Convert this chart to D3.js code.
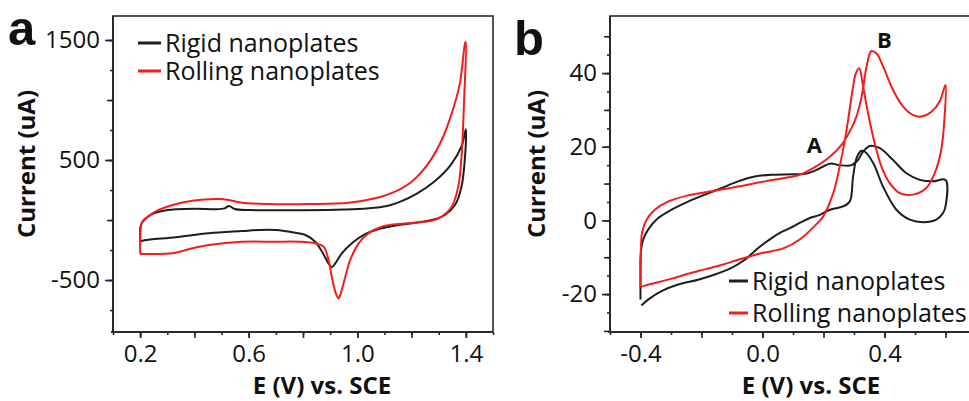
<!DOCTYPE html>
<html>
<head>
<meta charset="utf-8">
<script src="https://cdn.jsdelivr.net/npm/d3@7"></script>
<style>
  body { margin: 0; background: #fff; }
  svg { display: block; }
  text { font-family: "Open Sans", sans-serif; fill: #111; }
</style>
</head>
<body>
<div id="chart"></div>
<script>
// ---- data (E in V vs SCE, current in uA) ----

// panel a : wide scan 0.2 .. 1.4 V
let rigidA = [[0.2,-181],[0.2,-120],[0.201,-60],[0.21,-10],[0.221,14],[0.24,45],[0.27,69],[0.332,89],
  [0.406,94],[0.48,89],[0.511,97],[0.527,117],[0.548,92],[0.604,83],[0.678,81],[0.8,82],[0.95,88],
  [1.036,97],[1.11,117],[1.159,153],[1.221,222],[1.283,319],[1.344,458],[1.385,620],[1.4,756],
  [1.397,528],[1.384,278],[1.36,125],[1.323,42],[1.274,0],[1.213,-22],[1.151,-42],[1.09,-69],
  [1.029,-117],[0.98,-194],[0.943,-278],[0.919,-361],[0.906,-394],[0.894,-361],[0.87,-264],
  [0.845,-181],[0.809,-125],[0.772,-106],[0.699,-83],[0.637,-83],[0.576,-92],[0.453,-111],
  [0.331,-144],[0.208,-172],[0.2,-181]]

let rollingA = [[0.2,-283],[0.2,-200],[0.201,-100],[0.205,-30],[0.215,0],[0.245,56],[0.307,117],
  [0.392,161],[0.49,175],[0.527,167],[0.576,144],[0.674,133],[0.821,133],[0.968,144],[1.066,181],
  [1.139,236],[1.2,319],[1.262,472],[1.311,667],[1.348,889],[1.378,1139],[1.397,1472],[1.4,1485],
  [1.394,1028],[1.384,528],[1.372,278],[1.348,111],[1.311,28],[1.274,-6],[1.213,-22],[1.151,-33],
  [1.09,-56],[1.041,-111],[1.005,-194],[0.974,-333],[0.956,-472],[0.937,-625],[0.931,-653],
  [0.921,-611],[0.906,-472],[0.894,-333],[0.876,-222],[0.845,-194],[0.784,-181],[0.699,-181],
  [0.576,-181],[0.453,-208],[0.392,-236],[0.331,-272],[0.27,-283],[0.2,-283]]

// panel b : -0.4 .. 0.6 V
let rigidB = [[-0.4,-21.5],[-0.4,-15],[-0.399,-8.8],[-0.391,-5.2],[-0.375,-2.5],[-0.342,0.65],
  [-0.298,2.9],[-0.244,5.1],[-0.189,7.0],[-0.134,8.8],[-0.08,10.6],[-0.025,11.9],[0.03,12.4],
  [0.1,12.5],[0.144,12.7],[0.177,13.7],[0.221,15.4],[0.253,15.0],[0.292,15.0],[0.313,16.4],
  [0.33,18.7],[0.352,20.2],[0.385,19.6],[0.428,16.4],[0.472,12.8],[0.516,11.0],[0.559,10.6],
  [0.6,11.0],[0.6,3.8],[0.592,2.0],[0.57,0.2],[0.527,-0.5],[0.483,0.2],[0.439,2.9],[0.395,9.2],
  [0.363,15.6],[0.335,18.7],[0.325,18.9],[0.31,17.3],[0.297,11.9],[0.286,5.1],[0.264,3.8],
  [0.221,2.9],[0.188,1.5],[0.155,0.65],[0.122,-0.7],[0.09,-2.1],[0.057,-3.4],[0.03,-4.8],
  [-0.014,-7.5],[-0.058,-10.7],[-0.102,-12.9],[-0.156,-14.7],[-0.211,-16.1],[-0.277,-17.4],
  [-0.331,-19.2],[-0.375,-21.5],[-0.397,-23.1]]

let rollingB = [[-0.4,-18.1],[-0.4,-14],[-0.399,-9.8],[-0.395,-3.4],[-0.38,0.2],[-0.353,2.9],
  [-0.31,5.1],[-0.244,6.8],[-0.167,7.9],[-0.08,9.2],[0.008,10.6],[0.073,11.5],[0.122,12.4],
  [0.166,14.2],[0.221,17.3],[0.259,20.5],[0.286,24.1],[0.308,28.2],[0.325,33.6],[0.339,40.8],
  [0.35,44.9],[0.357,46.0],[0.374,45.3],[0.396,41.7],[0.428,35.4],[0.461,30.9],[0.494,28.6],
  [0.521,28.2],[0.554,29.5],[0.581,32.3],[0.6,36.8],[0.597,28.2],[0.586,19.2],[0.565,12.9],
  [0.537,8.8],[0.494,7.0],[0.45,7.4],[0.417,10.1],[0.39,14.6],[0.368,20.9],[0.346,29.1],
  [0.33,36.3],[0.317,41.3],[0.306,39.9],[0.297,36.3],[0.284,29.1],[0.27,21.8],[0.253,14.6],
  [0.232,7.4],[0.199,1.1],[0.177,-1.0],[0.122,-5.2],[0.068,-7.6],[0.002,-8.8],[-0.08,-10.7],
  [-0.134,-12.1],[-0.189,-13.3],[-0.244,-14.5],[-0.298,-15.8],[-0.353,-17.0],[-0.386,-17.7],
  [-0.4,-18.1]]

let seriesNames = ["Rigid nanoplates", "Rolling nanoplates"]
let seriesColors = ["#1e1e1e", "#f41c1c"]

let xTicksA = [0.2, 0.6, 1.0, 1.4]
let yTicksA = [-500, 500, 1500]
let xTicksB = [-0.4, 0.0, 0.4]
let yTicksB = [-20, 0, 20, 40]

// ---- svg ----
let svg = d3.select("#chart").append("svg")
svg.attr("width", 969)
svg.attr("height", 401)

// plain hyphen instead of the unicode minus d3 uses
let fmt1 = d => d3.format(".1f")(d).replace("\u2212", "-")

function drawPanel(p) {
  let x = d3.scaleLinear().domain(p.xDomain).range([p.left, p.right])
  let y = d3.scaleLinear().domain(p.yDomain).range([p.bottom, p.top])
  let g = svg.append("g")

  // frame
  g.append("rect")
   .attr("x", p.left).attr("y", p.top)
   .attr("width", p.right - p.left).attr("height", p.bottom - p.top)
   .style("fill", "none").style("stroke", "#2a2a2a").style("stroke-width", 1.6)

  // minor + mid ticks, no labels
  let minorX = g.append("g").attr("transform", "translate(0," + p.bottom + ")")
     .call(d3.axisBottom(x).tickValues(p.xMinor).tickSize(3).tickFormat(""))
  let midX = g.append("g").attr("transform", "translate(0," + p.bottom + ")")
     .call(d3.axisBottom(x).tickValues(p.xMid).tickSize(6).tickFormat(""))
  let minorY = g.append("g").attr("transform", "translate(" + p.left + ",0)")
     .call(d3.axisLeft(y).tickValues(p.yMinor).tickSize(3).tickFormat(""))
  let midY = g.append("g").attr("transform", "translate(" + p.left + ",0)")
     .call(d3.axisLeft(y).tickValues(p.yMid).tickSize(6).tickFormat(""))

  // labelled ticks
  let ax = g.append("g").attr("transform", "translate(0," + p.bottom + ")")
     .call(d3.axisBottom(x).tickValues(p.xTicks).tickSize(6).tickPadding(7).tickFormat(fmt1))
  let ay = g.append("g").attr("transform", "translate(" + p.left + ",0)")
     .call(d3.axisLeft(y).tickValues(p.yTicks).tickSize(8).tickPadding(5).tickFormat(d => String(d)))

  ;[minorX, midX, minorY, midY, ax, ay].forEach(a => {
    a.select(".domain").remove()
    a.selectAll("line").style("stroke", "#2a2a2a").style("stroke-width", 1.6)
    a.selectAll("text").style("font-family", "'Open Sans', sans-serif")
     .style("font-size", "24px").style("fill", "#111")
  })
  ax.selectAll("text").style("text-anchor", "middle")
  ay.selectAll("text").style("text-anchor", "end")

  // axis lines drawn heavier
  g.append("line").attr("x1", p.left - 2).attr("x2", p.right).attr("y1", p.bottom).attr("y2", p.bottom)
   .style("stroke", "#2a2a2a").style("stroke-width", 2)
  g.append("line").attr("x1", p.left).attr("x2", p.left).attr("y1", p.top).attr("y2", p.bottom)
   .style("stroke", "#2a2a2a").style("stroke-width", 2)

  // curves
  let line = d3.line()
    .x(d => x(d[0]))
    .y(d => y(d[1]))
    .curve(d3.curveCatmullRom.alpha(0.5))

  p.series.forEach((s, i) => {
    g.append("path")
     .datum(s)
     .attr("d", line)
     .style("fill", "none")
     .style("stroke", seriesColors[i])
     .style("stroke-width", 2)
     .style("stroke-linejoin", "round")
  })

  // legend
  seriesNames.forEach((name, i) => {
    let ly = p.legY[i]
    g.append("line")
     .attr("x1", p.legX).attr("x2", p.legX + p.legLen)
     .attr("y1", ly).attr("y2", ly)
     .style("stroke", seriesColors[i]).style("stroke-width", 3)
    g.append("text")
     .attr("x", p.legX + p.legLen + 4).attr("y", ly + 9)
     .style("font-size", "25px")
     .text(name)
  })

  // axis titles
  g.append("text")
   .attr("x", p.xTitleX).attr("y", 394)
   .attr("text-anchor", "middle")
   .style("font-size", "24px").style("font-weight", "bold")
   .text("E (V) vs. SCE")
  g.append("text")
   .attr("transform", "translate(" + p.yTitleX + ",164) rotate(-90)")
   .attr("text-anchor", "middle")
   .style("font-size", "24px").style("font-weight", "bold")
   .text("Current (uA)")

  // panel letter
  g.append("text")
   .attr("x", p.letterX).attr("y", p.letterY)
   .style("font-family", "'Liberation Sans', Arial, sans-serif")
   .style("font-size", "49px").style("font-weight", "bold")
   .text(p.letter)

  return {x: x, y: y, g: g}
}

drawPanel({
  left: 113, right: 493, top: 16, bottom: 332,
  xDomain: [0.1, 1.5], yDomain: [-933, 1700],
  xTicks: xTicksA, xMid: d3.range(0.2, 1.45, 0.2), xMinor: d3.range(0.1, 1.55, 0.1),
  yTicks: yTicksA, yMid: [-500, 0, 500, 1000, 1500], yMinor: d3.range(-750, 1700, 250),
  series: [rigidA, rollingA],
  legX: 138, legLen: 23, legY: [43, 71],
  xTitleX: 322, yTitleX: 35,
  letter: "a", letterX: 8, letterY: 45
})

let pb = drawPanel({
  left: 610, right: 976, top: 16, bottom: 332,
  xDomain: [-0.5, 0.7], yDomain: [-30.3, 55.5],
  xTicks: xTicksB, xMid: d3.range(-0.4, 0.65, 0.2), xMinor: d3.range(-0.5, 0.75, 0.1),
  yTicks: yTicksB, yMid: d3.range(-30, 55, 10), yMinor: d3.range(-25, 55, 5),
  series: [rigidB, rollingB],
  legX: 729, legLen: 19, legY: [281, 313],
  xTitleX: 811, yTitleX: 545,
  letter: "b", letterX: 514, letterY: 55
})

// peak labels A and B
pb.g.append("text").attr("x", pb.x(0.17)).attr("y", 153)
  .attr("text-anchor", "middle").style("font-size", "22px").style("font-weight", "bold").text("A")
pb.g.append("text").attr("x", pb.x(0.4)).attr("y", 48)
  .attr("text-anchor", "middle").style("font-size", "22px").style("font-weight", "bold").text("B")
</script>
</body>
</html>
